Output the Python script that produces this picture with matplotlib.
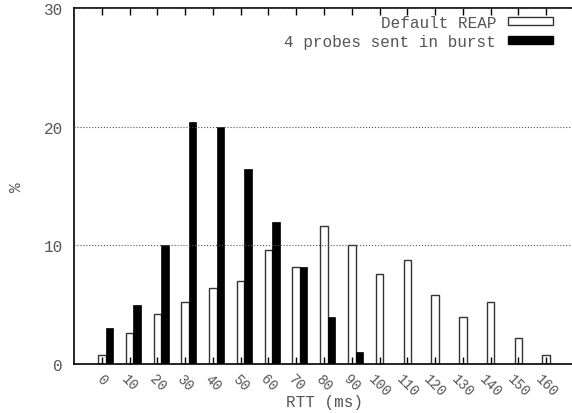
import matplotlib
matplotlib.use("Agg")
import matplotlib.pyplot as plt
from matplotlib.patches import Patch

# RTT bins (ms)
rtt_bins = [0, 10, 20, 30, 40, 50, 60, 70, 80, 90, 100, 110, 120, 130, 140, 150, 160]
tick_labels = [str(b) for b in rtt_bins]

# percentages
default_reap = [0.8, 2.6, 4.2, 5.2, 6.4, 7.0, 9.6, 8.2, 11.6, 10.0, 7.6, 8.8, 5.8, 4.0, 5.2, 2.2, 0.8]
burst_4 = [3.0, 5.0, 10.0, 20.4, 20.0, 16.4, 12.0, 8.2, 4.0, 1.0, 0, 0, 0, 0, 0, 0, 0]

plt.rcParams['font.family'] = ['Liberation Mono', 'DejaVu Sans Mono']
plt.rcParams['font.size'] = 11.5
txt_color = '#555555'

fig = plt.figure(figsize=(5.72, 4.14), dpi=100)
ax = fig.add_axes([74 / 572, 1 - 365 / 414, 500 / 572, 356 / 414])

w = 2.7
ax.bar(rtt_bins, default_reap, width=w, color='white',
       edgecolor='#333333', linewidth=1.0)
ax.bar([b + w for b in rtt_bins], burst_4, width=w, color='black',
       edgecolor='black', linewidth=0.5)

ax.set_xlim(-10, 170)
ax.set_ylim(0, 30)
ax.set_yticks([0, 10, 20, 30])
ax.set_xticks(rtt_bins)
ax.set_xticklabels(tick_labels, rotation=-45, ha='center', va='top',
                   color=txt_color, fontsize=10)
for lbl in ax.get_yticklabels():
    lbl.set_color(txt_color)

ax.yaxis.grid(True, linestyle=':', color='#555555', linewidth=0.8)
ax.set_axisbelow(False)
ax.tick_params(axis='x', direction='in', top=True, length=5, width=1, pad=5)
ax.tick_params(axis='y', direction='in', length=0, pad=8)
for s in ax.spines.values():
    s.set_linewidth(1.2)

ax.set_xlabel('RTT (ms)', color=txt_color)
ax.xaxis.set_label_coords(0.5, -0.085)
ax.set_ylabel('%', color=txt_color)
ax.yaxis.set_label_coords(-0.1, 0.5)

handles = [Patch(facecolor='white', edgecolor='#333333'),
           Patch(facecolor='black', edgecolor='black')]
ax.legend(handles, ['Default REAP', '4 probes sent in burst'], loc='upper right',
          frameon=False, markerfirst=False, handlelength=2.8, handleheight=0.45,
          borderaxespad=0.0, bbox_to_anchor=(0.964, 0.99), labelspacing=0.25,
          handletextpad=0.75, labelcolor=txt_color, borderpad=0.2)

fig.savefig('out.png', dpi=100)
